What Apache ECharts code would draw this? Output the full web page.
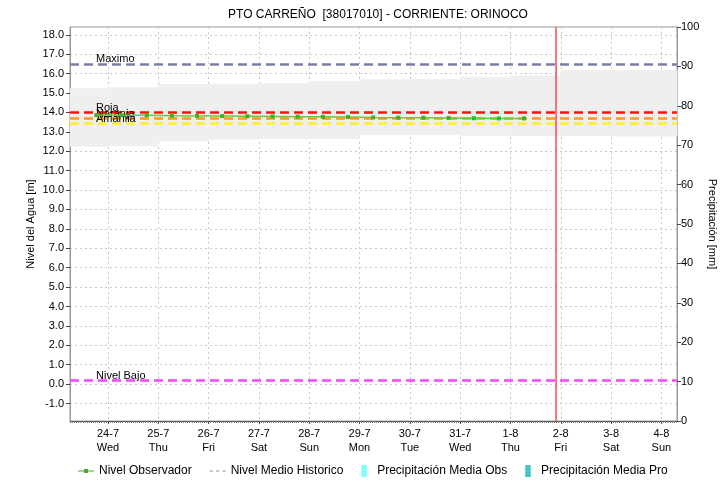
<!DOCTYPE html>
<html>
<head>
<meta charset="utf-8">
<script src="https://cdn.jsdelivr.net/npm/echarts@6/dist/echarts.min.js"></script>
<style>
  html, body { margin: 0; padding: 0; background: #fff; }
  #chart { width: 728px; height: 486px; }
</style>
</head>
<body>
<div id="chart"></div>
<script>
// Day ticks on the x axis (x = days since 24-7 00:00)
const dayLabels = ['24-7', '25-7', '26-7', '27-7', '28-7', '29-7', '30-7', '31-7', '1-8', '2-8', '3-8', '4-8'];
const weekdays = ['Wed', 'Thu', 'Fri', 'Sat', 'Sun', 'Mon', 'Tue', 'Wed', 'Thu', 'Fri', 'Sat', 'Sun'];

// Observed water level (m), two readings per day
const obsTimes = [-0.23, 0.27, 0.77, 1.27, 1.77, 2.27, 2.77, 3.27, 3.77, 4.27, 4.77, 5.27, 5.77, 6.27, 6.77, 7.27, 7.77, 8.27];
const obsLevel = [13.86, 13.85, 13.85, 13.83, 13.82, 13.81, 13.80, 13.79, 13.78, 13.77, 13.76, 13.74, 13.73, 13.72, 13.71, 13.70, 13.69, 13.69];

// Historic range band (m), one step per day: [from, to) in days
const bandFrom = [-0.755, 0, 1, 2, 3, 4, 5, 6, 7, 8, 9, 10, 11];
const bandTo   = [0, 1, 2, 3, 4, 5, 6, 7, 8, 9, 10, 11, 11.31];
const bandLow  = [12.23, 12.25, 12.50, 12.60, 12.63, 12.63, 12.84, 12.84, 12.80, 12.78, 12.78, 12.76, 12.76];
const bandHigh = [15.24, 15.30, 15.46, 15.48, 15.50, 15.62, 15.71, 15.72, 15.84, 15.90, 16.19, 16.19, 16.20];

// Alert thresholds (m)
const thresholdNames = ['Maximo', 'Roja', 'Naranja', 'Amarilla', 'Nivel Bajo'];
const thresholdValues = [16.5, 14.0, 13.68, 13.42, 0.2];
const thresholdColors = ['#7880a8', '#ff1010', '#ff9a1a', '#fff020', '#ff40ff'];

// Current time marker (days)
const nowDay = 8.906;

// Precipitation (mm) - no values in this period
const precipObs = [];
const precipPro = [];

// Axis ranges
const levelMin = -1.9, levelMax = 18.4;
const dayMin = -0.755, dayMax = 11.31;

const leftTicks = [];
for (let v = -1; v <= 18; v++) leftTicks.push(v);
const dayTicks = dayLabels.map((_, i) => i);

const font = 'Liberation Sans, Arial, sans-serif';
const chart = echarts.init(document.getElementById('chart'), null, { renderer: 'canvas' });

const option = {
  animation: false,
  backgroundColor: '#fff',
  textStyle: { fontFamily: font },
  title: {
    text: 'PTO CARREÑO  [38017010] - CORRIENTE: ORINOCO',
    left: 373, textAlign: 'center', top: 4,
    textStyle: { fontSize: 12, fontWeight: 'normal', color: '#000', fontFamily: font }
  },
  grid: {
    left: 70, right: 51, top: 27, bottom: 65,
    outerBoundsMode: 'none', containLabel: false,
    show: true, borderColor: '#999', borderWidth: 1, backgroundColor: 'transparent'
  },
  legend: {
    bottom: 4, left: 73,
    itemWidth: 16, itemHeight: 12, itemGap: 18,
    textStyle: { fontSize: 12, color: '#000', fontFamily: font },
    data: [
      { name: 'Nivel Observador', icon: 'path://M0,5.5h6v-1.5h4v1.5h6v1h-6v1.5h-4v-1.5h-6z' },
      { name: 'Nivel Medio Historico', icon: 'path://M0,5h3v2h-3zM6,5h3v2h-3zM12,5h3v2h-3z', itemStyle: { color: '#c8c8c8' } },
      { name: 'Precipitación Media Obs', icon: 'path://M0,0h6v13h-6z' },
      { name: 'Precipitación Media Pro', icon: 'path://M0,0h6v13h-6z' }
    ]
  },
  xAxis: {
    type: 'value', min: dayMin, max: dayMax, splitNumber: 12,
    axisLine: { onZero: false, lineStyle: { color: '#555' } },
    axisTick: { show: true, length: 3, customValues: dayTicks, lineStyle: { color: '#555' } },
    minorTick: { show: true, splitNumber: 24, length: 2, lineStyle: { color: '#777' } },
    axisLabel: {
      customValues: dayTicks,
      fontSize: 11, color: '#000', lineHeight: 14, margin: 6,
      formatter: v => dayLabels[Math.round(v)] + '\n' + weekdays[Math.round(v)]
    },
    splitLine: { show: true, lineStyle: { color: '#c8c8c8', type: [2, 3] } }
  },
  yAxis: [
    {
      type: 'value', min: levelMin, max: levelMax, splitNumber: 20, position: 'left',
      name: 'Nivel del Agua [m]', nameLocation: 'middle', nameGap: 34, nameRotate: 90,
      nameMoveOverlap: false,
      nameTextStyle: { fontSize: 11, color: '#000' },
      axisLine: { show: true, onZero: false, lineStyle: { color: '#999' } },
      axisTick: { show: true, length: 4, customValues: leftTicks, lineStyle: { color: '#444' } },
      axisLabel: { customValues: leftTicks, fontSize: 11, color: '#000', margin: 6, formatter: v => v.toFixed(1) },
      splitLine: { show: true, lineStyle: { color: '#c8c8c8', type: [2, 3] } }
    },
    {
      type: 'value', min: 0, max: 100, interval: 10, position: 'right',
      name: 'Precipitación [mm]', nameLocation: 'middle', nameGap: 30, nameRotate: -90,
      nameMoveOverlap: false,
      nameTextStyle: { fontSize: 11, color: '#000' },
      axisLine: { show: true, onZero: false, lineStyle: { color: '#999' } },
      axisTick: { show: true, length: 4, lineStyle: { color: '#444' } },
      axisLabel: { fontSize: 11, color: '#000', margin: 4 },
      splitLine: { show: false }
    }
  ],
  series: [
    {
      // historic range band, one rectangle per day
      name: 'bandRange', type: 'custom', silent: true, z: 1,
      data: bandFrom.map((x, i) => [x, bandTo[i], bandLow[i], bandHigh[i]]),
      encode: { x: [0, 1], y: [2, 3] },
      renderItem: (params, api) => {
        const p0 = api.coord([api.value(0), api.value(3)]);
        const p1 = api.coord([api.value(1), api.value(2)]);
        return {
          type: 'rect',
          shape: { x: p0[0], y: p0[1], width: p1[0] - p0[0] + 0.5, height: p1[1] - p0[1] },
          style: { fill: '#efefef' }
        };
      }
    },
    {
      name: 'Nivel Medio Historico', type: 'line', symbol: 'none', silent: true,
      itemStyle: { color: '#c8c8c8' },
      lineStyle: { color: '#c8c8c8', type: [2, 3], width: 2 },
      data: []
    },
    {
      // current time marker spanning the full level range
      name: 'ahora', type: 'line', symbol: 'none', silent: true, z: 6,
      lineStyle: { color: '#ff3030', width: 1.3 },
      data: [[nowDay, levelMin], [nowDay, levelMax]]
    },
    {
      name: 'Nivel Observador', type: 'line',
      symbol: 'rect', symbolSize: 4,
      itemStyle: { color: '#44b022' },
      lineStyle: { color: '#66cc33', width: 1.5 },
      data: obsTimes.map((x, i) => [x, obsLevel[i]]), z: 5,
      markLine: {
        silent: true, symbol: 'none',
        label: {
          position: 'insideStartTop', formatter: '{b}', color: '#000', fontSize: 11,
          fontFamily: font, padding: [0, 0, 0, 27], distance: -1
        },
        data: thresholdNames.map((n, i) => ({
          name: n, yAxis: thresholdValues[i],
          lineStyle: { color: thresholdColors[i], type: [9, 5], width: 2.5 }
        }))
      }
    },
    {
      name: 'Precipitación Media Obs', type: 'bar', yAxisIndex: 1,
      itemStyle: { color: '#80ffff' }, data: precipObs
    },
    {
      name: 'Precipitación Media Pro', type: 'bar', yAxisIndex: 1,
      itemStyle: { color: '#40c8c8' }, data: precipPro
    }
  ]
};
chart.setOption(option);
</script>
</body>
</html>
